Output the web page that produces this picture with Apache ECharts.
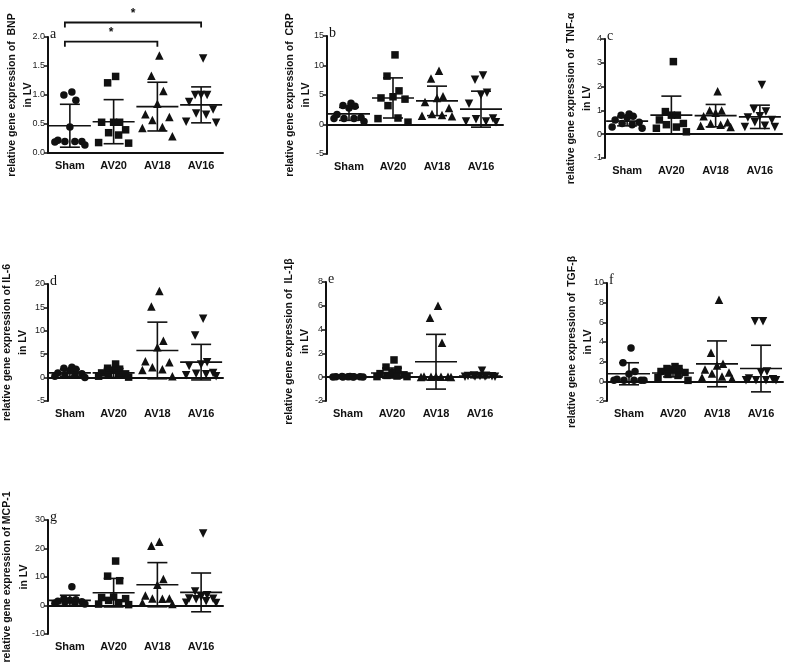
<!DOCTYPE html>
<html>
<head>
<meta charset="utf-8">
<script src="https://cdn.jsdelivr.net/npm/echarts@6/dist/echarts.min.js"></script>
<style>
html, body { margin: 0; background: #fff; }
#chart { width: 787px; height: 672px; }
</style>
</head>
<body>
<div id="chart"></div>
<script>
let categories = ['Sham', 'AV20', 'AV18', 'AV16'];

// BNP
let bnpValues = [
    [1.05, 1.0, 0.91, 0.45, 0.22, 0.2, 0.2, 0.2, 0.19, 0.14],
    [1.32, 1.21, 0.53, 0.53, 0.53, 0.4, 0.35, 0.31, 0.18, 0.17],
    [1.68, 1.33, 1.07, 0.85, 0.67, 0.62, 0.57, 0.45, 0.43, 0.29],
    [1.63, 1.0, 1.0, 1.0, 0.88, 0.75, 0.68, 0.66, 0.54, 0.52]
];
let bnpMean = [0.47, 0.54, 0.80, 0.83];
let bnpSd = [0.37, 0.38, 0.42, 0.31];

// CRP
let crpValues = [
    [3.6, 3.2, 3.1, 2.8, 1.7, 1.2, 1.0, 1.0, 1.0, 0.5],
    [11.8, 8.2, 5.7, 4.7, 4.5, 4.3, 3.2, 1.1, 1.0, 0.4],
    [9.1, 7.8, 4.8, 4.5, 3.8, 2.8, 1.8, 1.6, 1.5, 1.4],
    [8.3, 7.6, 5.4, 5.0, 3.5, 1.0, 0.9, 0.5, 0.5, 0.4]
];
let crpMean = [1.8, 4.5, 4.0, 2.6];
let crpSd = [1.1, 3.4, 2.5, 3.05];

// TNF-α
let tnfValues = [
    [0.85, 0.8, 0.75, 0.7, 0.6, 0.5, 0.45, 0.4, 0.3, 0.25],
    [3.05, 0.95, 0.8, 0.8, 0.6, 0.45, 0.4, 0.3, 0.25, 0.1],
    [1.8, 1.0, 1.0, 0.9, 0.75, 0.5, 0.45, 0.4, 0.35, 0.3],
    [2.07, 1.05, 0.95, 0.75, 0.7, 0.6, 0.5, 0.35, 0.3, 0.3]
];
let tnfMean = [0.55, 0.8, 0.78, 0.73];
let tnfSd = [0.2, 0.8, 0.47, 0.49];

// IL-6
let il6Values = [
    [2.2, 2.0, 1.8, 1.5, 1.0, 0.8, 0.6, 0.5, 0.3, 0.0],
    [2.9, 2.0, 1.8, 1.6, 1.0, 0.8, 0.6, 0.5, 0.3, 0.1],
    [18.5, 15.2, 7.9, 6.5, 3.5, 3.3, 2.2, 1.8, 1.6, 0.3],
    [12.6, 9.0, 3.3, 2.8, 2.5, 1.0, 0.8, 0.7, 0.5, 0.3]
];
let il6Mean = [1.0, 1.0, 5.8, 3.3];
let il6Sd = [0.8, 0.95, 6.05, 3.8];

// IL-1β
let il1bValues = [
    [0.05, 0.05, 0.04, 0.04, 0.03, 0.03, 0.02, 0.02, 0.02, 0.01],
    [1.45, 0.85, 0.65, 0.4, 0.3, 0.2, 0.15, 0.1, 0.05, 0.05],
    [6.0, 5.0, 2.9, 0.05, 0.05, 0.04, 0.03, 0.03, 0.02, 0.02],
    [0.55, 0.15, 0.12, 0.1, 0.1, 0.08, 0.06, 0.05, 0.04, 0.03]
];
let il1bMean = [0.03, 0.35, 1.3, 0.1];
let il1bSd = [0.03, 0.42, 2.3, 0.15];

// TGF-β
let tgfValues = [
    [3.4, 1.9, 1.0, 0.75, 0.2, 0.1, 0.1, 0.1, 0.1, 0.1],
    [1.5, 1.3, 1.3, 1.2, 1.0, 0.9, 0.7, 0.6, 0.4, 0.1],
    [8.3, 2.9, 1.8, 1.6, 1.2, 0.9, 0.8, 0.5, 0.4, 0.3],
    [6.1, 6.1, 1.0, 0.9, 0.3, 0.2, 0.1, 0.1, 0.1, 0.1]
];
let tgfMean = [0.77, 0.85, 1.78, 1.3];
let tgfSd = [1.12, 0.4, 2.33, 2.37];

// MCP-1
let mcpValues = [
    [6.6, 2.4, 2.0, 1.8, 1.5, 1.3, 1.2, 1.0, 0.8, 0.5],
    [15.6, 10.3, 8.7, 3.0, 2.8, 2.4, 1.8, 1.0, 0.5, 0.3],
    [22.4, 21.0, 9.3, 7.3, 3.5, 2.5, 2.5, 2.4, 1.0, 0.5],
    [25.3, 4.9, 3.6, 3.0, 2.5, 2.4, 2.2, 1.5, 1.0, 0.9]
];
let mcpMean = [1.8, 4.5, 7.3, 4.6];
let mcpSd = [1.8, 5.0, 7.75, 6.8];

// significance brackets in panel a: [from, to, level]
let bnpBrackets = [[0, 2, 1.92], [0, 3, 2.25]];

let ink = '#111';
let symbols = [
    { symbol: 'circle', size: 7.5, rotate: 0 },
    { symbol: 'rect', size: 7.5, rotate: 0 },
    { symbol: 'triangle', size: 8.5, rotate: 0 },
    { symbol: 'triangle', size: 8.5, rotate: 180 }
];
let jitter = [2, -6, 6, 0, -12, 12, -5, 5, -15, 15]; // px, horizontal spread

let panels = [
    { letter: 'a', title: 'relative gene expression of  BNP', values: bnpValues, mean: bnpMean, sd: bnpSd,
        min: 0, max: 2, interval: 0.5, dec: 1, grid: { left: 48, top: 37, width: 175, height: 116 }, gap: [36, 20] },
    { letter: 'b', title: 'relative gene expression of  CRP', values: crpValues, mean: crpMean, sd: crpSd,
        min: -5, max: 15, interval: 5, dec: 0, grid: { left: 327, top: 36, width: 176, height: 118 }, gap: [37, 21] },
    { letter: 'c', title: 'relative gene expression of  TNF-\u03b1', values: tnfValues, mean: tnfMean, sd: tnfSd,
        min: -1, max: 4, interval: 1, dec: 0, grid: { left: 605, top: 39, width: 177, height: 119 }, gap: [34, 18] },
    { letter: 'd', title: 'relative gene expression of IL-6', values: il6Values, mean: il6Mean, sd: il6Sd,
        min: -5, max: 20, interval: 5, dec: 0, grid: { left: 48, top: 284, width: 175, height: 117 }, gap: [41, 25] },
    { letter: 'e', title: 'relative gene expression of  IL-1\u03b2', values: il1bValues, mean: il1bMean, sd: il1bSd,
        min: -2, max: 8, interval: 2, dec: 0, grid: { left: 326, top: 282, width: 176, height: 119 }, gap: [37, 21] },
    { letter: 'f', title: 'relative gene expression of  TGF-\u03b2', values: tgfValues, mean: tgfMean, sd: tgfSd,
        min: -2, max: 10, interval: 2, dec: 0, grid: { left: 607, top: 283, width: 176, height: 118 }, gap: [35, 19] },
    { letter: 'g', title: 'relative gene expression of MCP-1', values: mcpValues, mean: mcpMean, sd: mcpSd,
        min: -10, max: 30, interval: 10, dec: 0, grid: { left: 48, top: 520, width: 175, height: 114 }, gap: [41, 24] }
];

let option = {
    animation: false,
    backgroundColor: '#fff',
    grid: [],
    xAxis: [],
    yAxis: [],
    graphic: [],
    series: []
};

panels.forEach((p, i) => {
    option.grid.push(p.grid);
    option.xAxis.push({
        type: 'category',
        gridIndex: i,
        data: categories,
        axisLine: { onZero: true, lineStyle: { color: ink, width: 2 } },
        axisTick: { show: false },
        axisLabel: { interval: 0, margin: 7, color: ink, fontSize: 11, fontWeight: 'bold', fontFamily: 'Liberation Sans, Arial' }
    });
    option.yAxis.push({
        type: 'value',
        gridIndex: i,
        min: p.min,
        max: p.max,
        interval: p.interval,
        axisLine: { show: true, onZero: false, lineStyle: { color: ink, width: 2 } },
        axisTick: { show: true, length: 4, lineStyle: { color: ink, width: 1.5 } },
        splitLine: { show: false },
        axisLabel: {
            margin: 3,
            color: '#222',
            fontSize: 9,
            fontFamily: 'Liberation Sans, Arial',
            formatter: v => v.toFixed(p.dec)
        }
    });

    // y title, two lines, rotated
    let cy = p.grid.top + p.grid.height / 2;
    [p.title, 'in LV'].forEach((t, k) => {
        option.graphic.push({
            type: 'text',
            x: p.grid.left - p.gap[k],
            y: cy,
            rotation: Math.PI / 2,
            style: {
                text: t,
                fill: ink,
                font: 'bold 10.5px "Liberation Sans", Arial',
                textAlign: 'center',
                textVerticalAlign: 'middle'
            }
        });
    });

    // panel letter
    option.graphic.push({
        type: 'text',
        x: p.grid.left + 2,
        y: p.grid.top + 4,
        style: {
            text: p.letter,
            fill: ink,
            font: '14px "Liberation Serif", "DejaVu Serif", serif',
            textAlign: 'left',
            textVerticalAlign: 'bottom'
        }
    });

    // dots
    p.values.forEach((vals, g) => {
        let s = symbols[g];
        option.series.push({
            type: 'scatter',
            xAxisIndex: i,
            yAxisIndex: i,
            symbol: s.symbol,
            symbolSize: s.size,
            symbolRotate: s.rotate,
            itemStyle: { color: ink, opacity: 1 },
            z: 2,
            data: vals.map((v, k) => ({ value: [g, v], symbolOffset: [jitter[k % jitter.length], 0] }))
        });
    });

    // mean ± SD
    option.series.push({
        type: 'custom',
        xAxisIndex: i,
        yAxisIndex: i,
        z: 3,
        data: p.mean.map((m, g) => [g, m, p.sd[g]]),
        renderItem: (params, api) => {
            let g = api.value(0);
            let m = api.value(1);
            let sd = api.value(2);
            let c = api.coord([g, m]);
            let hi = api.coord([g, m + sd]);
            let lo = api.coord([g, m - sd]);
            let line = (x1, y1, x2, y2) => ({
                type: 'line',
                shape: { x1: x1, y1: y1, x2: x2, y2: y2 },
                style: { stroke: ink, lineWidth: 1.6 }
            });
            return {
                type: 'group',
                children: [
                    line(c[0] - 21, c[1], c[0] + 21, c[1]),
                    line(c[0], hi[1], c[0], lo[1]),
                    line(c[0] - 10, hi[1], c[0] + 10, hi[1]),
                    line(c[0] - 10, lo[1], c[0] + 10, lo[1])
                ]
            };
        }
    });
});

// significance brackets on panel a
option.series.push({
    type: 'custom',
    xAxisIndex: 0,
    yAxisIndex: 0,
    clip: false,
    z: 4,
    data: bnpBrackets,
    renderItem: (params, api) => {
        let a = api.coord([api.value(0), api.value(2)]);
        let b = api.coord([api.value(1), api.value(2)]);
        let x1 = a[0] - 5;
        let x2 = b[0];
        let y = a[1];
        return {
            type: 'group',
            children: [
                {
                    type: 'polyline',
                    shape: { points: [[x1, y + 5], [x1, y], [x2, y], [x2, y + 5]] },
                    style: { stroke: ink, lineWidth: 1.8, fill: null }
                },
                {
                    type: 'text',
                    x: (x1 + x2) / 2,
                    y: y - 3,
                    style: { text: '*', fill: ink, font: 'bold 12px "Liberation Sans", Arial', textAlign: 'center', textVerticalAlign: 'bottom' }
                }
            ]
        };
    }
});

let myChart = echarts.init(document.getElementById('chart'));
myChart.setOption(option);
</script>
</body>
</html>
